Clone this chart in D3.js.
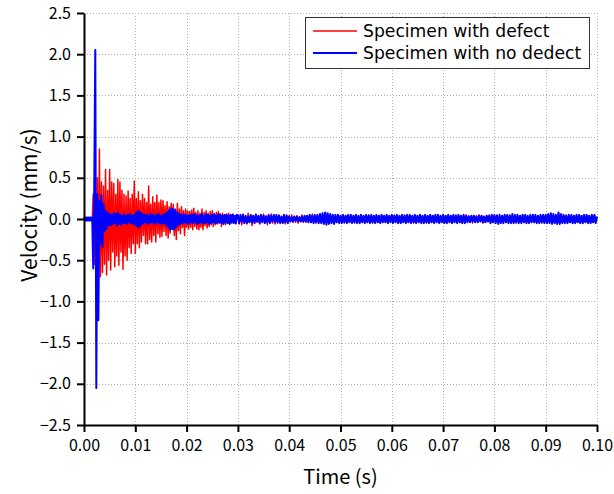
<!DOCTYPE html>
<html><head><meta charset="utf-8">
<script src="https://cdn.jsdelivr.net/npm/d3@7"></script>
<style>
body{margin:0;background:#fff}
text{font-family:"Noto Sans CJK JP","Noto Sans",sans-serif;fill:#000}
</style>
</head><body>
<svg id="c" width="614" height="494"></svg>
<script>
const xTicks=[0,0.01,0.02,0.03,0.04,0.05,0.06,0.07,0.08,0.09,0.10];
const yTicks=[-2.5,-2.0,-1.5,-1.0,-0.5,0.0,0.5,1.0,1.5,2.0,2.5];
const seriesNames=["Specimen with defect","Specimen with no dedect"];
const seriesColors=["#ff0000","#0000ff"];
const xLabel="Time (s)";
const yLabel="Velocity (mm/s)";
// sampling grid: 0.0002 s up to 0.03 s, then 0.00025 s
const dtEarly=0.0002, dtLate=0.00025, tSplit=0.03;

const redEarly=[0,0.01,-0.01,0,0.01,-0.01,0.01,0,-0.01,0.3,
-0.55,0.35,-0.6,0.5,-0.73,0.85,-0.7,0.45,-0.65,0.4,
-0.55,0.6,-0.68,0.35,-0.5,0.6,-0.62,0.45,-0.4,0.43,
-0.58,0.3,-0.45,0.48,-0.56,0.45,-0.4,0.35,-0.61,0.3,
-0.45,0.28,-0.5,0.34,-0.35,0.25,-0.42,0.3,-0.3,0.46,
-0.42,0.25,-0.3,0.33,-0.35,0.22,-0.28,0.3,-0.2,0.25,
-0.3,0.2,-0.3,0.4,-0.25,0.18,-0.28,0.27,-0.2,0.2,
-0.28,0.29,-0.18,0.2,-0.22,0.23,-0.21,0.22,-0.15,0.16,
-0.2,0.21,-0.23,0.15,-0.17,0.19,-0.12,0.18,-0.2,0.12,
-0.25,0.19,-0.14,0.12,-0.18,0.15,-0.1,0.1,-0.2,0.12,
-0.1,0.1,-0.12,0.09,-0.1,0.11,-0.13,0.13,-0.09,0.08,
-0.12,0.1,-0.13,0.07,-0.1,0.12,-0.13,0.08,-0.08,0.1,
-0.11,0.07,-0.09,0.09,-0.07,0.1,-0.09,0.06,-0.07,0.08,
-0.06,0.09,-0.05,0.06,-0.09,0.07,-0.06,0.05,-0.07,0.06,
-0.05,0.07,-0.06,0.05,-0.05,0.06,-0.04,0.04,-0.06,0.05];

const redLate=[0.05,-0.06,0.04,-0.07,0.06,-0.05,0.03,-0.06,0.07,-0.04,
0.05,-0.08,0.04,-0.05,0.06,-0.04,0.03,-0.06,0.05,-0.03,
0.06,-0.05,0.04,-0.07,0.05,-0.04,0.06,-0.05,0.03,-0.06,
0.04,-0.05,0.05,-0.04,0.03,-0.05,0.04,-0.06,0.05,-0.04,
0.04,-0.03,0.05,-0.04,0.03,-0.04,0.04,-0.05,0.03,-0.03,
0.05,-0.04,0.03,-0.04,0.04,-0.03,0.05,-0.04,0.06,-0.04,
0.03,-0.05,0.04,-0.03,0.04,-0.04,0.03,-0.05,0.04,-0.03,
0.05,-0.04,0.03,-0.04,0.04,-0.05,0.03,-0.04,0.05,-0.03,
0.04,-0.04,0.03,-0.05,0.04,-0.03,0.04,-0.04,0.05,-0.03,
0.04,-0.05,0.03,-0.04,0.04,-0.03,0.05,-0.04,0.03,-0.04,
0.04,-0.03,0.05,-0.04,0.03,-0.05,0.04,-0.03,0.04,-0.04,
0.03,-0.04,0.05,-0.03,0.04,-0.04,0.03,-0.05,0.04,-0.03,
0.04,-0.04,0.05,-0.03,0.04,-0.05,0.03,-0.04,0.04,-0.03,
0.05,-0.04,0.03,-0.04,0.04,-0.03,0.04,-0.05,0.03,-0.04,
0.04,-0.03,0.05,-0.04,0.03,-0.04,0.04,-0.05,0.03,-0.03,
0.05,-0.04,0.03,-0.04,0.04,-0.03,0.05,-0.04,0.03,-0.04,
0.03,-0.05,0.04,-0.03,0.04,-0.04,0.03,-0.05,0.04,-0.03,
0.05,-0.04,0.03,-0.04,0.04,-0.05,0.03,-0.04,0.05,-0.03,
0.04,-0.04,0.03,-0.05,0.04,-0.03,0.04,-0.04,0.05,-0.03,
0.04,-0.05,0.03,-0.04,0.04,-0.03,0.05,-0.04,0.03,-0.04,
0.04,-0.03,0.05,-0.04,0.03,-0.05,0.04,-0.03,0.04,-0.04,
0.03,-0.04,0.05,-0.03,0.04,-0.04,0.03,-0.05,0.04,-0.03,
0.04,-0.04,0.05,-0.03,0.04,-0.05,0.03,-0.04,0.04,-0.03,
0.05,-0.04,0.03,-0.04,0.04,-0.03,0.04,-0.05,0.03,-0.04,
0.04,-0.03,0.05,-0.04,0.03,-0.04,0.04,-0.05,0.03,-0.03,
0.05,-0.04,0.03,-0.04,0.04,-0.03,0.05,-0.04,0.03,-0.04,
0.03,-0.05,0.04,-0.03,0.04,-0.04,0.03,-0.05,0.04,-0.03,
0.05,-0.04,0.03,-0.04,0.04,-0.05,0.03,-0.04,0.05,-0.03,0.02];

const blueEarly=[0.02,-0.02,0.02,-0.02,0.02,-0.02,0.02,-0.02,0.02,-0.6,
0.41,2.05,-2.05,0.3,-1.23,0.22,-0.3,0.29,-0.34,0.18,
-0.15,0.1,-0.12,0.08,-0.07,0.06,-0.08,0.05,-0.06,0.07,
-0.05,0.06,-0.08,0.08,-0.06,0.05,-0.07,0.04,-0.05,0.06,
-0.05,0.04,-0.06,0.05,-0.04,0.06,-0.05,0.04,-0.06,0.05,
-0.07,0.08,-0.09,0.1,-0.1,0.08,-0.07,0.06,-0.05,0.05,
-0.04,0.05,-0.06,0.04,-0.05,0.06,-0.04,0.05,-0.05,0.04,
-0.06,0.05,-0.04,0.06,-0.05,0.04,-0.06,0.05,-0.05,0.06,
-0.07,0.08,-0.1,0.11,-0.13,0.13,-0.12,0.12,-0.13,0.11,
-0.1,0.08,-0.07,0.06,-0.06,0.05,-0.05,0.06,-0.04,0.05,
-0.05,0.04,-0.06,0.05,-0.04,0.05,-0.05,0.06,-0.04,0.05,
-0.06,0.04,-0.05,0.05,-0.04,0.06,-0.05,0.04,-0.05,0.06,
-0.04,0.05,-0.06,0.04,-0.05,0.05,-0.04,0.06,-0.05,0.04,
-0.05,0.06,-0.04,0.05,-0.05,0.04,-0.06,0.05,-0.04,0.05,
-0.05,0.04,-0.06,0.05,-0.04,0.05,-0.05,0.04,-0.05,0.05];

const blueLate=[0.04,-0.05,0.05,-0.03,0.05,-0.05,0.04,-0.05,0.03,-0.04,
0.05,-0.04,0.04,-0.05,0.05,-0.03,0.04,-0.05,0.05,-0.04,
0.04,-0.05,0.03,-0.04,0.05,-0.05,0.04,-0.03,0.05,-0.04,
0.05,-0.04,0.04,-0.05,0.03,-0.05,0.05,-0.04,0.04,-0.05,
0.03,-0.03,0.02,-0.03,0.03,-0.02,0.03,-0.03,0.02,-0.03,
0.03,-0.03,0.04,-0.03,0.04,-0.04,0.05,-0.04,0.04,-0.05,
0.05,-0.04,0.05,-0.05,0.06,-0.05,0.07,-0.06,0.08,-0.07,
0.07,-0.06,0.06,-0.05,0.05,-0.06,0.05,-0.04,0.05,-0.05,
0.04,-0.05,0.05,-0.04,0.04,-0.05,0.05,-0.04,0.05,-0.05,
0.04,-0.04,0.05,-0.05,0.04,-0.05,0.05,-0.04,0.04,-0.05,
0.05,-0.04,0.04,-0.05,0.05,-0.04,0.04,-0.05,0.05,-0.04,
0.04,-0.05,0.05,-0.04,0.04,-0.04,0.05,-0.05,0.04,-0.04,
0.05,-0.05,0.04,-0.04,0.05,-0.05,0.04,-0.05,0.05,-0.04,
0.04,-0.05,0.05,-0.04,0.05,-0.05,0.04,-0.04,0.05,-0.05,
0.04,-0.04,0.05,-0.05,0.04,-0.05,0.05,-0.04,0.04,-0.05,
0.05,-0.04,0.04,-0.05,0.05,-0.04,0.05,-0.05,0.04,-0.04,
0.05,-0.05,0.04,-0.05,0.05,-0.04,0.04,-0.05,0.05,-0.04,
0.04,-0.05,0.05,-0.04,0.04,-0.05,0.05,-0.05,0.04,-0.04,
0.03,-0.04,0.04,-0.03,0.04,-0.04,0.03,-0.04,0.04,-0.03,
0.04,-0.04,0.03,-0.04,0.04,-0.03,0.04,-0.05,0.05,-0.04,
0.05,-0.05,0.04,-0.06,0.05,-0.05,0.04,-0.05,0.05,-0.04,
0.05,-0.05,0.04,-0.05,0.06,-0.05,0.05,-0.04,0.05,-0.05,
0.04,-0.05,0.05,-0.04,0.05,-0.05,0.04,-0.05,0.05,-0.04,
0.05,-0.04,0.05,-0.05,0.04,-0.05,0.05,-0.04,0.05,-0.05,
0.05,-0.05,0.06,-0.05,0.07,-0.06,0.06,-0.05,0.05,-0.06,
0.08,-0.06,0.06,-0.05,0.05,-0.05,0.04,-0.05,0.05,-0.04,
0.05,-0.05,0.04,-0.05,0.05,-0.04,0.05,-0.05,0.04,-0.05,
0.05,-0.04,0.05,-0.05,0.04,-0.05,0.05,-0.04,0.05,-0.05,0.03];

function toPoints(early, late){
  return early.map((v,i)=>({t:i*dtEarly,v}))
    .concat(late.map((v,i)=>({t:tSplit+i*dtLate,v})));
}
const series=[toPoints(redEarly,redLate), toPoints(blueEarly,blueLate)];

const W=614,H=494, m={l:84,r:17,t:13,b:69};
const svg=d3.select("#c");
const x=d3.scaleLinear().domain([0,0.1]).range([m.l,W-m.r]);
const y=d3.scaleLinear().domain([-2.5,2.5]).range([H-m.b,m.t]);

// grid
const grid=svg.append("g").attr("stroke","#b0b0b0").attr("stroke-width",1).attr("stroke-dasharray","1,2");
grid.selectAll("line.v").data(xTicks.slice(1)).join("line")
  .attr("x1",d=>Math.round(x(d))+0.5).attr("x2",d=>Math.round(x(d))+0.5)
  .attr("y1",y(2.5)).attr("y2",y(-2.5));
grid.selectAll("line.h").data(yTicks.slice(1)).join("line")
  .attr("y1",d=>Math.round(y(d))+0.5).attr("y2",d=>Math.round(y(d))+0.5)
  .attr("x1",x(0)).attr("x2",x(0.1));

// series
const line=d3.line().x(d=>x(d.t)).y(d=>y(d.v));
const widths=[1.5,2];
series.forEach((s,k)=>{
  svg.append("path").datum(s).attr("d",line).attr("fill","none")
    .attr("stroke",seriesColors[k]).attr("stroke-width",widths[k]).attr("stroke-linejoin","round");
});

// axes
const xAxis=svg.append("g").attr("transform",`translate(0,${y(-2.5)})`)
  .call(d3.axisBottom(x).tickValues(xTicks).tickFormat(d3.format(".2f")).tickSizeOuter(0).tickSizeInner(7).tickPadding(8));
const yAxis=svg.append("g").attr("transform",`translate(${x(0)},0)`)
  .call(d3.axisLeft(y).tickValues(yTicks).tickFormat(d3.format(".1f")).tickSizeOuter(0).tickSizeInner(7).tickPadding(6));
[xAxis,yAxis].forEach(a=>{
  a.select(".domain").attr("stroke","#000").attr("stroke-width",2);
  a.selectAll(".tick line").attr("stroke","#000").attr("stroke-width",2);
  a.selectAll(".tick text").attr("font-size",16).attr("font-family",null);
});

// axis titles
svg.append("text").attr("x",(x(0)+x(0.1))/2).attr("y",484).attr("text-anchor","middle")
  .attr("font-size",20).text(xLabel);
svg.append("text").attr("transform",`translate(37,205) rotate(-90)`).attr("text-anchor","middle")
  .attr("font-size",21).text(yLabel);

// legend
const lg=svg.append("g");
lg.append("rect").attr("x",305.5).attr("y",17.5).attr("width",284).attr("height",51)
  .attr("fill","#fff").attr("stroke","#333").attr("stroke-width",1);
seriesNames.forEach((n,k)=>{
  const yy=31+k*22;
  lg.append("line").attr("x1",313).attr("x2",357).attr("y1",yy).attr("y2",yy)
    .attr("stroke",seriesColors[k]).attr("stroke-width",widths[k]);
  lg.append("text").attr("x",363).attr("y",yy+6).attr("font-size",17.2)
    .style("font-family","'DejaVu Sans',sans-serif").text(n);
});
</script>
</body></html>
